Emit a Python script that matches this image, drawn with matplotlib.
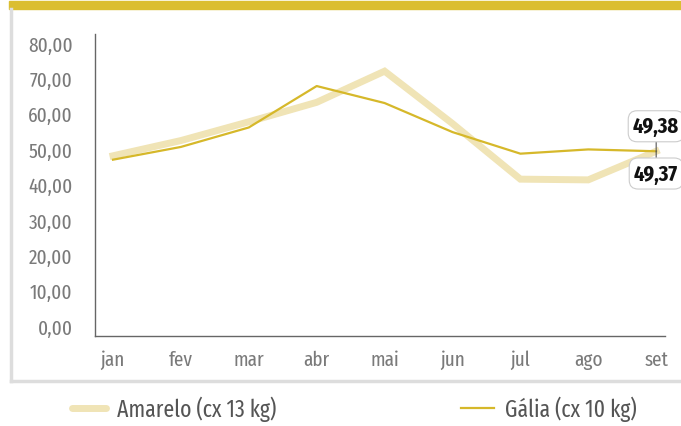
import matplotlib
matplotlib.use("Agg")
import matplotlib.pyplot as plt
from matplotlib.patches import Rectangle
from matplotlib.lines import Line2D

plt.rcParams['font.family'] = ['Fira Sans Extra Condensed', 'Fira Sans Condensed', 'DejaVu Sans']

months = ['jan', 'fev', 'mar', 'abr', 'mai', 'jun', 'jul', 'ago', 'set']
amarelo = [48.1, 52.4, 57.7, 63.2, 72.0, 57.2, 41.5, 41.3, 49.37]
galia = [47.0, 50.6, 56.1, 67.8, 63.0, 54.8, 48.7, 49.9, 49.38]
yticks = [0, 10, 20, 30, 40, 50, 60, 70, 80]

gold = '#D6B82A'
pale = '#F0E4B6'
grey_txt = '#7a7a7a'

fig = plt.figure(figsize=(6.81, 4.27), dpi=100)
W, H = 681, 427

# top bar and side frame
fig.patches.append(Rectangle((9 / W, 1 - 10 / H), 1, 8 / H, transform=fig.transFigure,
                             color='#DBBE30', zorder=0))
fig.lines.append(Line2D([11 / W, 11 / W], [1 - 10 / H, 1 - 382 / H], transform=fig.transFigure,
                        color='#dddddd', lw=2.5))
fig.lines.append(Line2D([11 / W, 1], [1 - 382 / H, 1 - 382 / H], transform=fig.transFigure,
                        color='#dddddd', lw=2.5))

ax = fig.add_axes([95 / W, (H - 337) / H, (665 - 95) / W, (337 - 35) / H])
x = list(range(len(months)))
ax.plot(x, amarelo, color=pale, lw=5, solid_joinstyle='miter', zorder=2)
ax.plot(x, galia, color=gold, lw=1.6, zorder=3)

ax.set_xlim(-0.265, 8.13)
ax.set_ylim(-2.8, 82.5)
ax.set_yticks(yticks)
ax.set_yticklabels([f'{v:.2f}'.replace('.', ',') for v in yticks])
ax.set_xticks(x)
ax.set_xticklabels(months)
ax.tick_params(length=0, labelsize=15, labelcolor=grey_txt)
ax.tick_params(axis='y', pad=16)
ax.tick_params(axis='x', pad=10)
for s in ['top', 'right']:
    ax.spines[s].set_visible(False)
for s in ['left', 'bottom']:
    ax.spines[s].set_color('#666666')
    ax.spines[s].set_linewidth(1)

box = dict(boxstyle='round,pad=0.22,rounding_size=0.4', fc='white', ec='#cccccc', lw=0.8)
ax.annotate('49,38', xy=(8, galia[-1]), xytext=(0, 18), textcoords='offset points',
            ha='center', va='center', fontsize=16, fontweight='bold', color='#111111',
            bbox=box, arrowprops=dict(arrowstyle='-', color='#555555', lw=0.8,
                                      shrinkA=0, shrinkB=0), zorder=5)
ax.annotate('49,37', xy=(8, amarelo[-1]), xytext=(0, -16), textcoords='offset points',
            ha='center', va='center', fontsize=16, fontweight='bold', color='#111111',
            bbox=box, arrowprops=dict(arrowstyle='-', color='#555555', lw=0.8,
                                      shrinkA=0, shrinkB=0), zorder=5)

# legend
ly = 1 - 409 / H
fig.lines.append(Line2D([72 / W, 106 / W], [ly, ly], transform=fig.transFigure,
                        color=pale, lw=5, solid_capstyle='round'))
fig.text(117 / W, ly, 'Amarelo (cx 13 kg)', fontsize=17, color='#555555', va='center')
fig.lines.append(Line2D([461 / W, 494 / W], [ly, ly], transform=fig.transFigure,
                        color=gold, lw=1.6))
fig.text(505 / W, ly, 'Gália (cx 10 kg)', fontsize=17, color='#555555', va='center')

fig.savefig('out.png', dpi=100)
